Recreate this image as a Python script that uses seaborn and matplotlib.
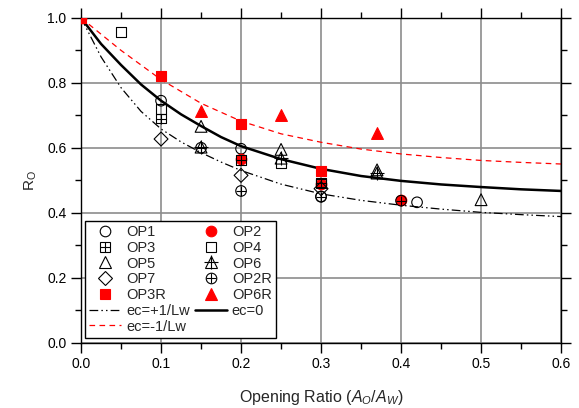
import math
import matplotlib
matplotlib.use("Agg")
import matplotlib.pyplot as plt
import seaborn as sns
from matplotlib.lines import Line2D
from matplotlib.ticker import MultipleLocator

op1_x = [0.1, 0.2, 0.3, 0.42]
op1_y = [0.745, 0.597, 0.45, 0.432]
op2_x = [0.0, 0.2, 0.3, 0.4]
op2_y = [1.0, 0.565, 0.488, 0.438]
op3_x = [0.1, 0.2, 0.3]
op3_y = [0.69, 0.563, 0.49]
op4_x = [0.05, 0.1, 0.25, 0.3]
op4_y = [0.957, 0.72, 0.551, 0.493]
op5_x = [0.15, 0.25, 0.37, 0.5]
op5_y = [0.666, 0.595, 0.532, 0.44]
op6_x = [0.15, 0.25, 0.37]
op6_y = [0.602, 0.568, 0.522]
op7_x = [0.1, 0.2, 0.3]
op7_y = [0.627, 0.515, 0.474]
op2r_x = [0.15, 0.2, 0.3, 0.4]
op2r_y = [0.600, 0.467, 0.449, 0.437]
op3r_x = [0.0, 0.1, 0.2, 0.3]
op3r_y = [1.0, 0.822, 0.672, 0.527]
op6r_x = [0.15, 0.25, 0.37]
op6r_y = [0.712, 0.702, 0.644]

# ---- curves ----
ec0_x = [0, 0.025, 0.05, 0.075, 0.1, 0.125, 0.15, 0.175, 0.2, 0.25, 0.3, 0.35, 0.4, 0.45, 0.5, 0.55, 0.6]
ec0_y = [1.0, 0.92, 0.855, 0.795, 0.745, 0.703, 0.667, 0.633, 0.605, 0.565, 0.535, 0.513, 0.498, 0.487, 0.479, 0.472, 0.467]
ecp_x = [0, 0.025, 0.05, 0.075, 0.1, 0.125, 0.15, 0.175, 0.2, 0.25, 0.3, 0.35, 0.4, 0.45, 0.5, 0.55, 0.6]
ecp_y = [1.0, 0.88, 0.785, 0.712, 0.658, 0.618, 0.585, 0.556, 0.53, 0.488, 0.458, 0.438, 0.423, 0.411, 0.401, 0.394, 0.388]
ecm_x = [0, 0.05, 0.1, 0.15, 0.2, 0.25, 0.3, 0.35, 0.4, 0.45, 0.5, 0.55, 0.6]
ecm_y = [1.0, 0.9, 0.81, 0.737, 0.682, 0.643, 0.617, 0.596, 0.581, 0.57, 0.561, 0.555, 0.55]

sns.set_style("ticks")
plt.rcParams["font.family"] = ["Liberation Sans", "DejaVu Sans"]
plt.rcParams["mathtext.fontset"] = "custom"
plt.rcParams["mathtext.rm"] = "Liberation Sans"
plt.rcParams["mathtext.it"] = "Liberation Sans:italic"

fig = plt.figure(figsize=(5.79, 4.08), dpi=100)
ax = fig.add_axes([0.14, 0.1605, 0.829, 0.7955])

DASHDOT = (0, (7, 2.5, 1.2, 2.5, 1.2, 2.5))
DASHED = (0, (4.5, 3.5))

# lines
sns.lineplot(x=ecp_x, y=ecp_y, ax=ax, color="black", lw=0.9, linestyle=DASHDOT, zorder=2)
sns.lineplot(x=ec0_x, y=ec0_y, ax=ax, color="black", lw=1.8, zorder=2)
sns.lineplot(x=ecm_x, y=ecm_y, ax=ax, color="red", lw=0.9, linestyle=DASHED, zorder=2)

MW = 0.8
S_O, S_S, S_T, S_D, S_P = 58, 48, 72, 50, 58


def pts(x, y, marker, s, fc, ec, z=3):
    if marker == "+":
        sns.scatterplot(x=x, y=y, marker="+", s=s, color=ec, linewidth=MW, ax=ax, zorder=z)
    else:
        sns.scatterplot(x=x, y=y, marker=marker, s=s, facecolor=fc, edgecolor=ec,
                        linewidth=MW, ax=ax, zorder=z)


pts(op1_x, op1_y, "o", S_O, "none", "black")
pts(op2_x, op2_y, "o", S_O, "red", "red")
pts(op3_x, op3_y, "s", S_S, "none", "black")
pts(op3_x, op3_y, "+", S_S, None, "black")
pts(op4_x, op4_y, "s", S_S, "none", "black")
pts(op5_x, op5_y, "^", S_T, "none", "black")
pts(op6_x, op6_y, "^", S_T, "none", "black")
pts(op6_x, op6_y, "+", 110, None, "black")
pts(op7_x, op7_y, "D", S_D, "none", "black")
pts(op2r_x, op2r_y, "o", S_O, "none", "black")
pts(op2r_x, op2r_y, "+", S_P, None, "black")
pts(op3r_x, op3r_y, "s", S_S, "red", "red")
pts(op6r_x, op6r_y, "^", S_T, "red", "red")

ax.set_xlim(0, 0.6)
ax.set_ylim(0, 1.0)
ax.xaxis.set_major_locator(MultipleLocator(0.1))
ax.xaxis.set_minor_locator(MultipleLocator(0.05))
ax.yaxis.set_major_locator(MultipleLocator(0.2))
ax.yaxis.set_minor_locator(MultipleLocator(0.1))
ax.xaxis.set_major_formatter(lambda v, p: f"{v:.1f}")
ax.yaxis.set_major_formatter(lambda v, p: f"{v:.1f}")
ax.tick_params(which="both", direction="out", top=True, right=True, labelsize=10, colors="black", width=1.0)
ax.tick_params(which="major", length=7)
ax.tick_params(which="minor", length=4)
ax.grid(True, which="major", color="#8c8c8c", lw=1.2)
ax.set_axisbelow(True)
for sp in ax.spines.values():
    sp.set_color("black")
    sp.set_linewidth(1.0)

ax.set_xlabel("Opening Ratio ($\\mathit{A_O}$/$\\mathit{A_W}$)", fontsize=11.5, labelpad=12)
ax.set_ylabel("R$_\\mathrm{O}$", fontsize=11, labelpad=6)


def h(marker, ms, fc, ec):
    return Line2D([], [], ls="none", marker=marker, ms=ms, mfc=fc, mec=ec, mew=MW)


def hp(ms):
    return Line2D([], [], ls="none", marker="+", ms=ms, mec="black", mew=MW)


ms_o, ms_s, ms_t, ms_d = math.sqrt(S_O), math.sqrt(S_S), math.sqrt(S_T), math.sqrt(S_D)
handles = [
    h("o", ms_o, "none", "black"),
    (h("s", ms_s, "none", "black"), hp(ms_s)),
    h("^", ms_t, "none", "black"),
    h("D", ms_d, "none", "black"),
    h("s", ms_s, "red", "red"),
    Line2D([], [], color="black", lw=0.9, ls=DASHDOT),
    Line2D([], [], color="red", lw=0.9, ls=DASHED),
    h("o", ms_o, "red", "red"),
    h("s", ms_s, "none", "black"),
    (h("^", ms_t, "none", "black"), hp(10.5)),
    (h("o", ms_o, "none", "black"), hp(ms_o)),
    h("^", ms_t, "red", "red"),
    Line2D([], [], color="black", lw=1.8),
]
labels = ["OP1", "OP3", "OP5", "OP7", "OP3R", "ec=+1/Lw", "ec=-1/Lw",
          "OP2", "OP4", "OP6", "OP2R", "OP6R", "ec=0"]
leg = ax.legend(handles, labels, ncol=2, loc="lower left", bbox_to_anchor=(0.008, 0.014),
                fontsize=10.5, frameon=True, fancybox=False, framealpha=1, edgecolor="black",
                handlelength=2.2, handletextpad=0.35, columnspacing=0.3, labelspacing=0.12,
                borderpad=0.3, borderaxespad=0)
leg.get_frame().set_linewidth(1.0)
leg.set_zorder(5)

fig.savefig("out.png", dpi=100)
